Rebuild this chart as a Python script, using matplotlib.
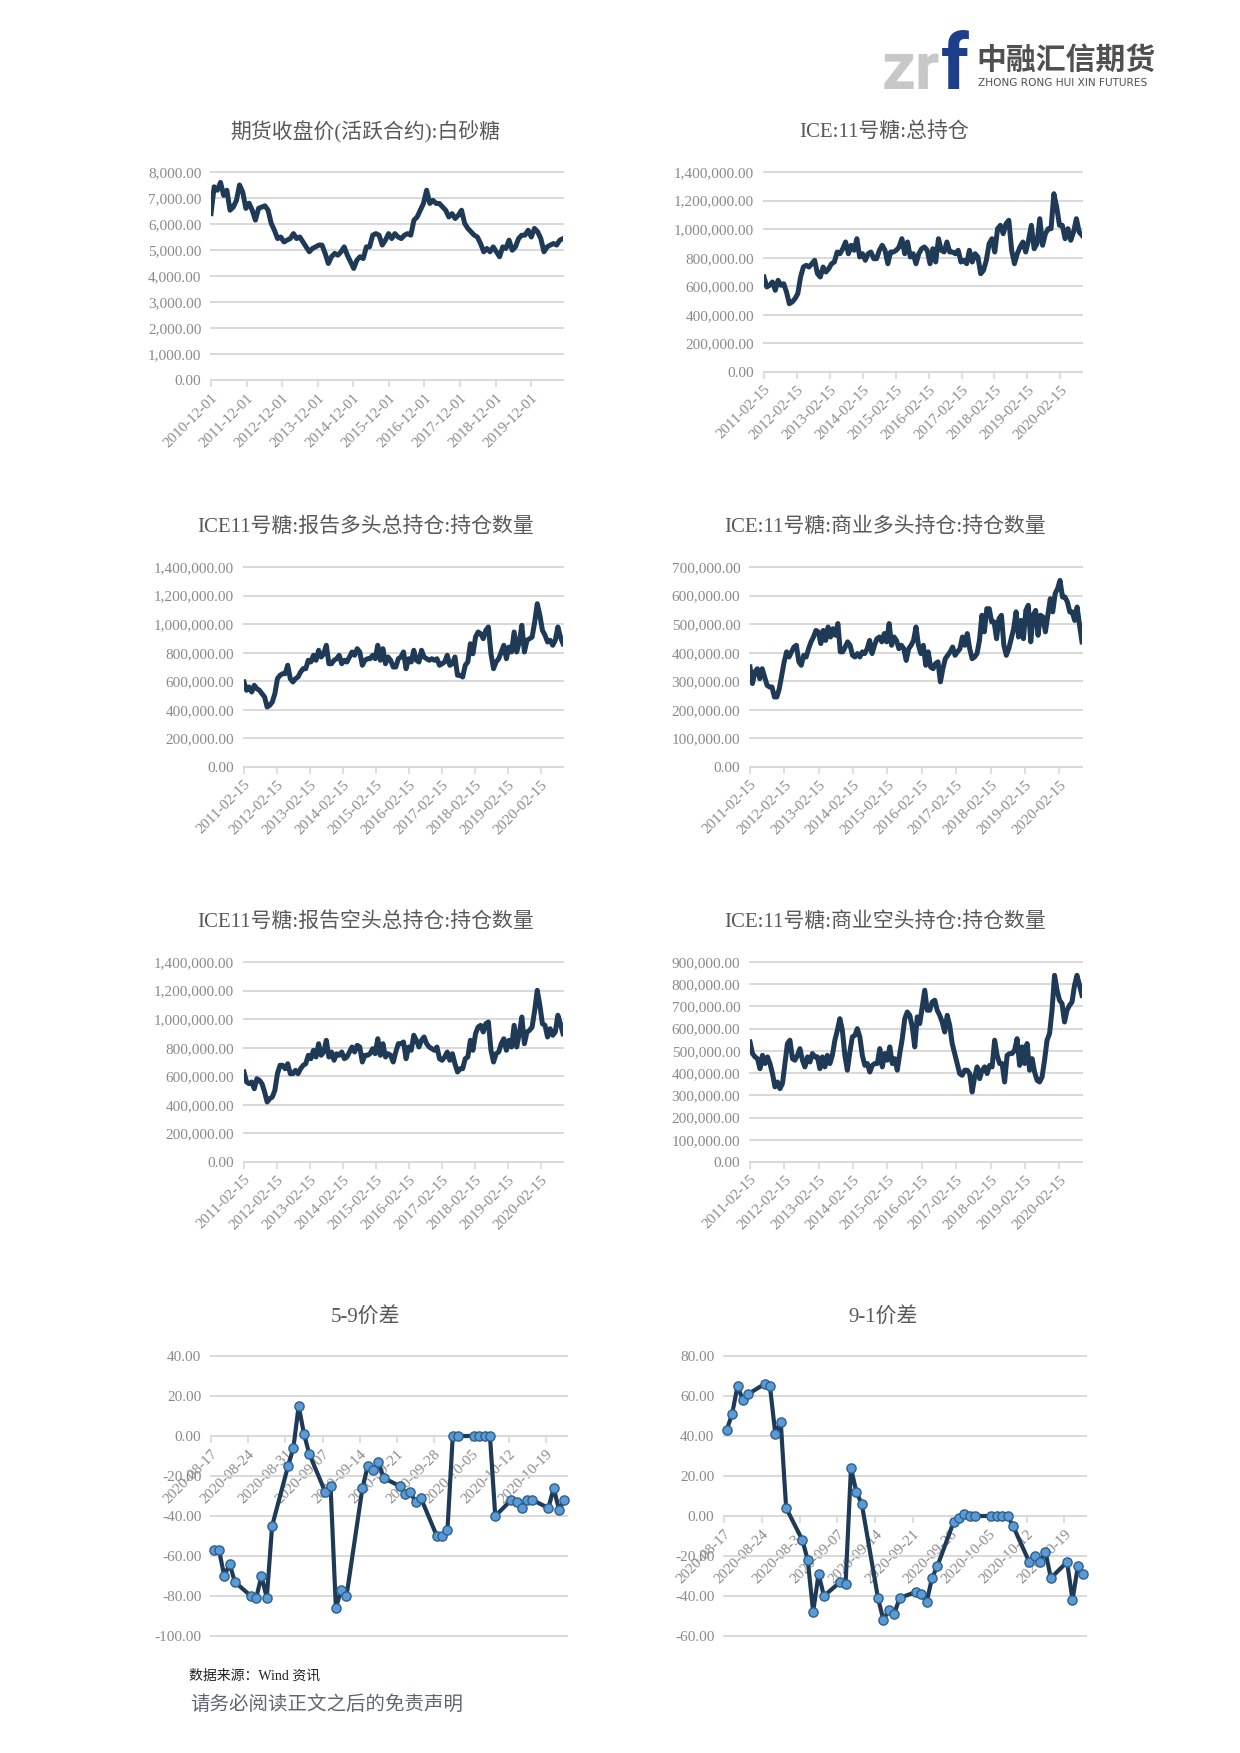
import numpy as np
import matplotlib
matplotlib.use('Agg')
import matplotlib.pyplot as plt
import matplotlib.dates as mdates
from matplotlib.ticker import FuncFormatter
import pandas as pd

# ---------------- data ----------------
price_title = '期货收盘价(活跃合约):白砂糖'
price_start, price_end = '2010-12-01', '2020-10-23'
price_ticks = ['2010-12-01', '2011-12-01', '2012-12-01', '2013-12-01', '2014-12-01',
               '2015-12-01', '2016-12-01', '2017-12-01', '2018-12-01', '2019-12-01']
price_vals = [6400, 7430, 7300, 7600, 7100, 7300, 6530, 6650, 6900, 7500, 7230, 6600, 6800, 6530,
              6150, 6600, 6650, 6700, 6530, 6020, 5760, 5440, 5500, 5310, 5380, 5440, 5630, 5440,
              5500, 5310, 5120, 4930, 5060, 5120, 5190, 5190, 4870, 4480, 4740, 4870, 4800, 4930,
              5120, 4800, 4550, 4290, 4610, 4740, 4670, 5120, 5120, 5570, 5630, 5570, 5190, 5380,
              5630, 5440, 5630, 5500, 5440, 5570, 5630, 5570, 6150, 6270, 6530, 6790, 7300, 6790,
              6910, 6790, 6790, 6660, 6530, 6270, 6400, 6210, 6340, 6530, 6020, 5830, 5700, 5570,
              5500, 5250, 4930, 5060, 4930, 5120, 4930, 4740, 5120, 5060, 5380, 4990, 5120, 5440,
              5570, 5570, 5760, 5500, 5830, 5700, 5440, 4930, 5120, 5190, 5250, 5190, 5380, 5440]

cot_start, cot_end = '2011-02-15', '2020-10-13'
cot_ticks = ['2011-02-15', '2012-02-15', '2013-02-15', '2014-02-15', '2015-02-15',
             '2016-02-15', '2017-02-15', '2018-02-15', '2019-02-15', '2020-02-15']

oi_title = 'ICE:11号糖:总持仓'
oi_vals = [665, 595, 607, 630, 572, 642, 607, 618, 560, 478, 490, 513, 548, 665, 735, 747, 735, 758,
           782, 688, 665, 735, 700, 723, 758, 770, 840, 828, 863, 910, 828, 887, 852, 933, 805, 828,
           782, 828, 840, 793, 793, 852, 887, 852, 758, 840, 840, 852, 875, 933, 828, 910, 805, 828,
           758, 828, 863, 875, 852, 758, 863, 770, 933, 852, 840, 910, 840, 840, 828, 852, 770, 782,
           758, 852, 770, 828, 805, 688, 712, 782, 898, 933, 840, 1003, 1027, 968, 1038, 1062, 852,
           758, 828, 875, 910, 840, 922, 1027, 863, 898, 1073, 887, 968, 1003, 1003, 1248, 1155,
           1027, 1027, 933, 1003, 922, 980, 1073, 980, 957]

rep_long_title = 'ICE11号糖:报告多头总持仓:持仓数量'
rep_long_vals = [595, 537, 560, 525, 572, 548, 537, 513, 490, 420, 432, 455, 513, 618, 642, 653, 653,
                 712, 618, 595, 618, 630, 665, 688, 688, 747, 735, 782, 747, 817, 770, 793, 852, 723,
                 723, 747, 758, 782, 723, 747, 735, 770, 805, 782, 828, 805, 712, 747, 758, 758, 782,
                 758, 852, 747, 828, 723, 770, 747, 700, 700, 758, 770, 805, 688, 758, 735, 817, 747,
                 735, 817, 770, 758, 747, 758, 747, 758, 712, 723, 735, 782, 712, 723, 770, 642, 642,
                 630, 712, 735, 863, 793, 910, 945, 933, 898, 957, 980, 793, 688, 735, 758, 805, 852,
                 758, 840, 805, 945, 805, 875, 992, 805, 887, 898, 910, 1015, 1143, 1062, 957, 922,
                 875, 887, 852, 887, 980, 910, 863]

com_long_title = 'ICE:11号糖:商业多头持仓:持仓数量'
com_long_vals = [350, 292, 333, 344, 309, 344, 315, 286, 280, 280, 245, 245, 274, 321, 368, 403, 385,
                 403, 420, 426, 368, 356, 391, 385, 414, 438, 455, 478, 473, 432, 478, 443, 490, 455,
                 484, 461, 502, 403, 403, 420, 438, 426, 391, 385, 397, 385, 403, 397, 414, 443, 397,
                 426, 449, 455, 438, 467, 438, 502, 426, 455, 443, 414, 426, 414, 373, 414, 426, 443,
                 490, 426, 397, 426, 356, 403, 350, 344, 362, 368, 298, 344, 379, 391, 403, 420, 391,
                 403, 414, 455, 426, 467, 414, 379, 385, 397, 443, 531, 473, 554, 554, 508, 508, 449,
                 519, 531, 426, 391, 414, 449, 484, 543, 455, 513, 449, 548, 566, 438, 531, 548, 461,
                 531, 525, 473, 531, 589, 543, 607, 624, 653, 595, 595, 578, 543, 543, 513, 560, 496,
                 438]

rep_short_title = 'ICE11号糖:报告空头总持仓:持仓数量'
rep_short_vals = [630, 560, 548, 560, 513, 583, 572, 548, 490, 420, 443, 455, 502, 618, 677, 677, 653,
                  688, 618, 618, 642, 618, 653, 677, 688, 747, 723, 782, 735, 828, 747, 770, 852, 735,
                  770, 712, 758, 747, 770, 723, 735, 770, 805, 770, 817, 805, 700, 747, 747, 758, 793,
                  758, 863, 747, 828, 735, 758, 747, 700, 770, 828, 828, 840, 723, 805, 782, 887, 852,
                  805, 852, 875, 828, 805, 793, 782, 805, 723, 712, 735, 770, 712, 758, 688, 630, 653,
                  653, 723, 735, 852, 782, 898, 945, 957, 910, 968, 980, 782, 700, 758, 770, 828, 863,
                  782, 852, 805, 957, 805, 898, 1015, 828, 910, 922, 945, 1062, 1202, 1097, 968, 957,
                  875, 933, 887, 910, 1027, 968, 898]

com_short_title = 'ICE:11号糖:商业空头持仓:持仓数量'
com_short_vals = [540, 488, 473, 465, 420, 480, 443, 473, 443, 398, 338, 360, 330, 353, 443, 533, 548,
                  465, 458, 480, 510, 458, 428, 473, 450, 488, 473, 473, 420, 473, 428, 480, 443, 480,
                  548, 593, 645, 593, 480, 413, 495, 563, 570, 600, 563, 480, 435, 443, 405, 435, 443,
                  443, 510, 428, 488, 458, 518, 443, 465, 413, 488, 555, 645, 675, 660, 608, 518, 653,
                  623, 698, 773, 683, 683, 720, 728, 683, 660, 630, 585, 660, 615, 533, 488, 443, 398,
                  390, 413, 413, 398, 315, 383, 428, 375, 413, 428, 398, 435, 428, 548, 480, 443, 443,
                  360, 480, 488, 488, 503, 555, 435, 518, 443, 533, 413, 465, 405, 368, 360, 383, 458,
                  548, 578, 683, 840, 773, 728, 713, 630, 683, 705, 720, 795, 840, 795, 750]

spread_dates = ['2020-08-17', '2020-08-18', '2020-08-19', '2020-08-20', '2020-08-21',
                '2020-08-24', '2020-08-25', '2020-08-26', '2020-08-27', '2020-08-28',
                '2020-08-31', '2020-09-01', '2020-09-02', '2020-09-03', '2020-09-04',
                '2020-09-07', '2020-09-08', '2020-09-09', '2020-09-10', '2020-09-11',
                '2020-09-14', '2020-09-15', '2020-09-16', '2020-09-17', '2020-09-18',
                '2020-09-21', '2020-09-22', '2020-09-23', '2020-09-24', '2020-09-25',
                '2020-09-28', '2020-09-29', '2020-09-30', '2020-10-01', '2020-10-02',
                '2020-10-05', '2020-10-06', '2020-10-07', '2020-10-08', '2020-10-09',
                '2020-10-12', '2020-10-13', '2020-10-14', '2020-10-15', '2020-10-16',
                '2020-10-19', '2020-10-20', '2020-10-21', '2020-10-22']
spread_ticks = ['2020-08-17', '2020-08-24', '2020-08-31', '2020-09-07', '2020-09-14',
                '2020-09-21', '2020-09-28', '2020-10-05', '2020-10-12', '2020-10-19']
spread_start, spread_end = '2020-08-17', '2020-10-23'

s59_title = '5-9价差'
s59_vals = [-57, -57, -70, -64, -73,
            -80, -81, -70, -81, -45,
            -15, -6, 15, 1, -9,
            -28, -25, -86, -77, -80,
            -26, -15, -17, -13, -21,
            -25, -29, -28, -33, -31,
            -50, -50, -47, 0, 0,
            0, 0, 0, 0, -40,
            -32, -33, -36, -32, -32,
            -36, -26, -37, -32]

s91_title = '9-1价差'
s91_vals = [43, 51, 65, 58, 61,
            66, 65, 41, 47, 4,
            -12, -22, -48, -29, -40,
            -33, -34, 24, 12, 6,
            -41, -52, -47, -49, -41,
            -38, -39, -43, -31, -25,
            -3, -1, 1, 0, 0,
            0, 0, 0, 0, -5,
            -23, -20, -23, -18, -31,
            -23, -42, -25, -29]

# ---------------- style ----------------
W, H = 1240, 1753
FONT = ['Liberation Serif', 'Noto Sans CJK SC', 'DejaVu Sans']
plt.rcParams['font.family'] = FONT
LINE = '#1f3a56'
GRID = '#d9d9d9'
TICKC = '#8a8a8a'
TITLEC = '#595959'


def rect(l, r, t, b):
    return [l / W, 1 - b / H, (r - l) / W, (b - t) / H]


def fig_text(fig, x, y, s, **kw):
    fig.text(x / W, 1 - y / H, s, **kw)


def dnum(s):
    return mdates.date2num(pd.Timestamp(s))


def style_axes(ax, ymin, ymax, ystep):
    ax.set_ylim(ymin, ymax)
    ax.set_yticks(np.arange(ymin, ymax + ystep / 2, ystep))
    ax.yaxis.set_major_formatter(FuncFormatter(lambda v, p: '{:,.2f}'.format(v)))
    ax.tick_params(axis='y', length=0, labelsize=11, labelcolor=TICKC, pad=7)
    ax.yaxis.grid(True, color=GRID, lw=1.4)
    for gl in ax.get_ygridlines():
        gl.set_clip_on(False)
    ax.set_axisbelow(True)
    for sp in ['top', 'right', 'left']:
        ax.spines[sp].set_visible(False)
    ax.spines['bottom'].set_color(GRID)
    ax.spines['bottom'].set_linewidth(1.4)
    ax.tick_params(axis='x', direction='out', length=5, width=1.2, color=GRID,
                   labelsize=10.8, labelcolor=TICKC, pad=3)


def long_chart(fig, box, title, title_xy, vals, scale, start, end, ticks, ymax, ystep):
    ax = fig.add_axes(rect(*box))
    x = np.linspace(dnum(start), dnum(end), len(vals))
    y = np.array(vals, dtype=float) * scale
    ax.plot(x, y, color=LINE, lw=3.6, solid_joinstyle='round', zorder=3)
    ax.set_xlim(dnum(start), dnum(end))
    style_axes(ax, 0, ymax, ystep)
    ax.set_xticks([dnum(t) for t in ticks])
    ax.set_xticklabels(ticks, rotation=45, ha='right', rotation_mode='anchor')
    fig_text(fig, title_xy[0], title_xy[1], title, ha='center', va='center',
             fontsize=15, color=TITLEC)
    return ax


def spread_chart(fig, box, title, title_xy, vals, ymin, ymax):
    ax = fig.add_axes(rect(*box))
    x = np.array([dnum(d) for d in spread_dates]) + 0.5
    ax.plot(x, vals, '-o', color=LINE, lw=3.0, ms=6.6, mfc='#5b9bd5', mec='#2c5f8e',
            mew=1.0, zorder=3, clip_on=False)
    ax.set_xlim(dnum(spread_start), dnum(spread_end))
    style_axes(ax, ymin, ymax, 20)
    ax.spines['bottom'].set_position(('data', 0))
    ax.set_xticks([dnum(t) for t in spread_ticks])
    ax.set_xticklabels(spread_ticks, rotation=45, ha='right', rotation_mode='anchor')
    fig_text(fig, title_xy[0], title_xy[1], title, ha='center', va='center',
             fontsize=15, color=TITLEC)
    return ax


fig = plt.figure(figsize=(W / 100, H / 100), dpi=100)
fig.patch.set_facecolor('white')

long_chart(fig, (211, 563, 172, 380), price_title, (365, 132), price_vals, 1,
           price_start, price_end, price_ticks, 8000, 1000)
long_chart(fig, (764, 1082, 172, 372), oi_title, (884, 132), oi_vals, 1000,
           cot_start, cot_end, cot_ticks, 1400000, 200000)
long_chart(fig, (244, 563, 567, 767), rep_long_title, (366, 527), rep_long_vals, 1000,
           cot_start, cot_end, cot_ticks, 1400000, 200000)
long_chart(fig, (750, 1082, 567, 767), com_long_title, (885, 527), com_long_vals, 1000,
           cot_start, cot_end, cot_ticks, 700000, 100000)
long_chart(fig, (244, 563, 962, 1162), rep_short_title, (366, 922), rep_short_vals, 1000,
           cot_start, cot_end, cot_ticks, 1400000, 200000)
long_chart(fig, (750, 1082, 962, 1162), com_short_title, (885, 922), com_short_vals, 1000,
           cot_start, cot_end, cot_ticks, 900000, 100000)
spread_chart(fig, (211, 567, 1356, 1636), s59_title, (365, 1317), s59_vals, -100, 40)
spread_chart(fig, (724, 1086, 1356, 1636), s91_title, (883, 1317), s91_vals, -60, 80)

# logo
fig_text(fig, 882, 89, 'zr', fontsize=48, color='#c8c8c8', fontweight='bold',
         family=['Roboto'], ha='left', va='baseline')
fig_text(fig, 941, 89, 'f', fontsize=56, color='#1d3f8a', fontweight='bold',
         family=['Roboto'], ha='left', va='baseline')
fig_text(fig, 976, 60, '中融汇信期货', fontsize=21.5, color='#505050', fontweight='bold',
         family=['Noto Sans CJK SC'], ha='left', va='center')
fig_text(fig, 978, 83, 'ZHONG RONG HUI XIN FUTURES', fontsize=7.6, color='#505050',
         family=['DejaVu Sans'], ha='left', va='center')

# footer
fig_text(fig, 189, 1676, '数据来源：Wind 资讯', fontsize=10, color='#222222',
         ha='left', va='center')
fig_text(fig, 190, 1704, '请务必阅读正文之后的免责声明', fontsize=14, color='#5f6670',
         ha='left', va='center', family=['Noto Sans CJK SC'])

fig.savefig('out.png', dpi=100, facecolor='white')
